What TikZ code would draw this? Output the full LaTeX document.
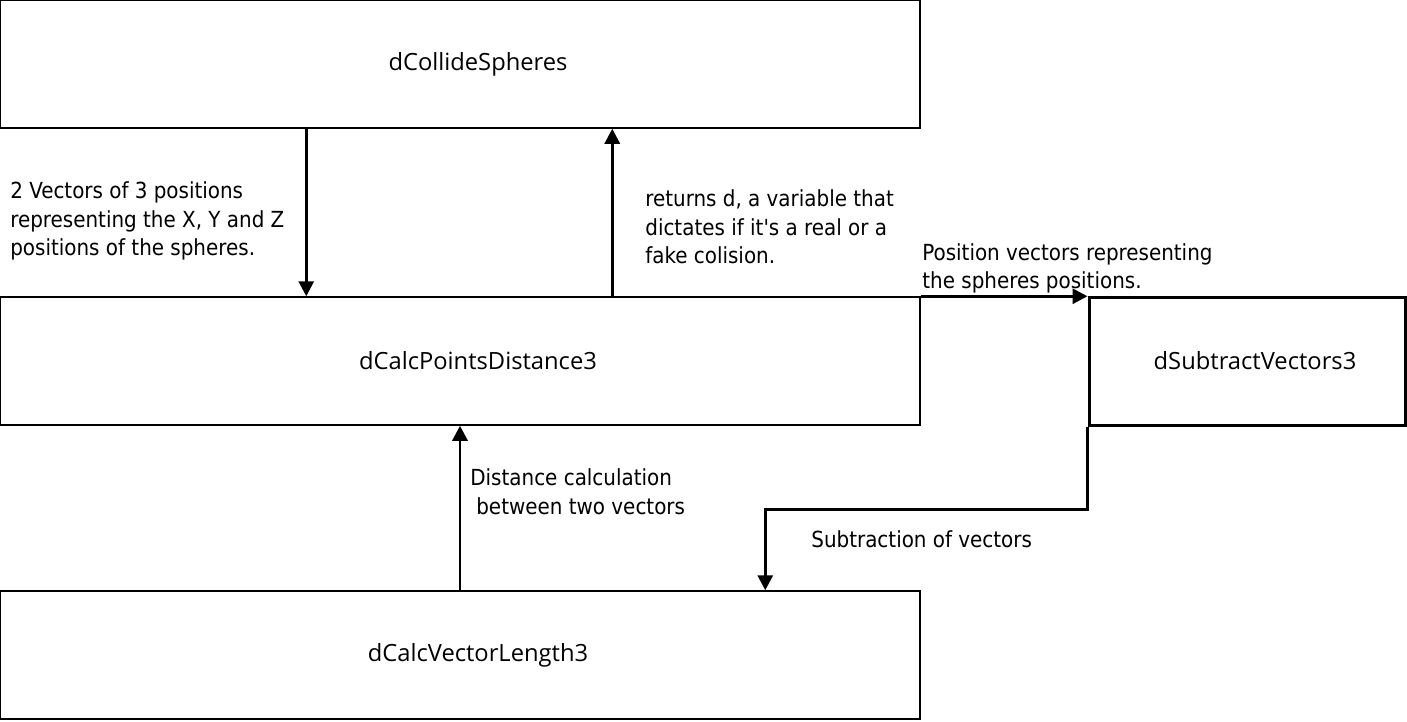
\documentclass[tikz,border=0pt]{standalone}
\usepackage{fontspec}
\setmainfont{DejaVu Sans Condensed}
\newfontfamily\boxfont{Open Sans}
\usetikzlibrary{arrows.meta,positioning}

\begin{document}
\begin{tikzpicture}[
    font=\fontsize{12.6}{16.3}\selectfont,
    block/.style={rectangle, draw, line width=0.85pt, minimum width=18.4cm, minimum height=2.56cm, font=\boxfont\fontsize{13.5}{15}\selectfont, execute at begin node={\hspace*{0.72cm}}},
    subblock/.style={rectangle, draw, line width=1.7pt, minimum width=6.32cm, minimum height=2.56cm, font=\boxfont\fontsize{13.5}{15}\selectfont, execute at begin node={\hspace*{0.32cm}}},
    note/.style={anchor=west, align=left, inner sep=0pt},
    arrow/.style={-{Triangle[length=0.3cm,width=0.3cm]}, line width=1.7pt}
]
    \useasboundingbox (0,0) rectangle (28.14,-14.42);

    % Functions
    \node[block] (collide) at (9.2,-1.28) {dCollideSpheres};
    \node[block] (points) at (9.2,-7.22) {dCalcPointsDistance3};
    \node[block] (length) at (9.2,-13.1) {dCalcVectorLength3};
    \node[subblock] (subtract) at (24.94,-7.22) {dSubtractVectors3};

    % Calls and returns
    \draw[arrow] ([xshift=6.14cm]collide.south west) -- ([xshift=6.14cm]points.north west);
    \draw[arrow] ([xshift=12.26cm]points.north west) -- ([xshift=12.26cm]collide.south west);
    \draw[arrow] (points.north east) -- (points.north east -| subtract.west);
    \draw[arrow] (subtract.south west) -- ++(0,-1.66) -| ([xshift=15.32cm]length.north west);
    \draw[arrow] (length.north) -- (points.south);

    % Labels
    \node[note] (sendpos) at (0.2,-4.42) {2 Vectors of 3 positions\\representing the X, Y and Z\\positions of the spheres.};
    \node[note] (retd) at (12.9,-4.54) {returns d, a variable that\\dictates if it\textquotesingle s a real or a\\fake colision.};
    \node[note] (posvec) at (18.44,-5.37) {Position vectors representing\\the spheres positions.};
    \node[note] (dist) at (9.4,-9.83) {Distance calculation\\\hspace*{0.12cm}between two vectors};
    \node[note] (subvec) at (16.22,-10.78) {Subtraction of vectors};
\end{tikzpicture}
\end{document}
